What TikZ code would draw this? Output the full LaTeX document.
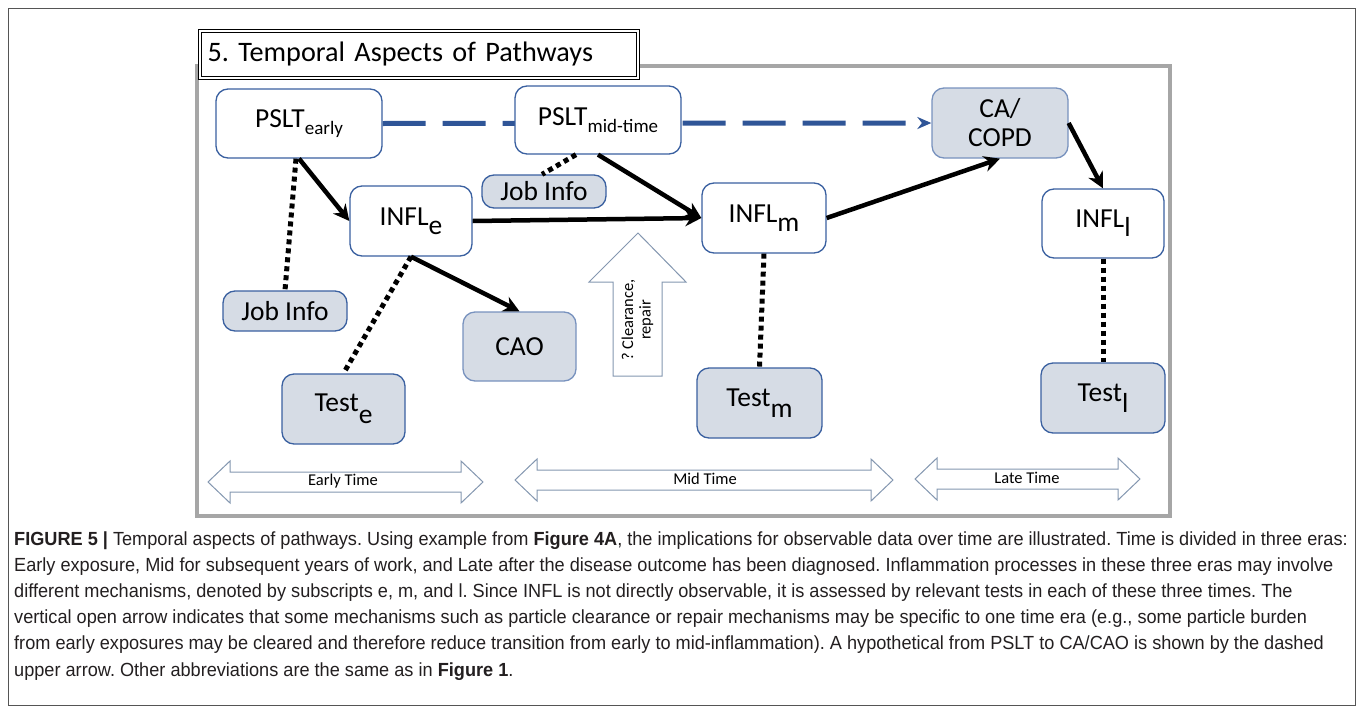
\documentclass[tikz,border=0pt]{standalone}
\usepackage{fontspec}
\setmainfont{Carlito}
\newfontfamily\tpcapfont[FakeStretch=0.955]{Liberation Sans}
\usetikzlibrary{arrows.meta}
\definecolor{TpBlue}{RGB}{47,85,151}
\definecolor{TpEdge}{RGB}{58,96,160}
\definecolor{TpSoftEdge}{RGB}{120,146,190}
\definecolor{TpFill}{RGB}{214,220,229}
\definecolor{TpFrame}{RGB}{166,166,166}
\definecolor{TpPage}{RGB}{85,85,85}
\definecolor{TpOutline}{RGB}{132,151,176}
\definecolor{TpText}{RGB}{35,31,32}
\pgfdeclarelayer{background}
\pgfsetlayers{background,main}
\frenchspacing
\newcommand\tpnodefont{\fontsize{27.5}{29}\selectfont}
\newcommand\tpsmallfont{\fontsize{16.5}{17.5}\selectfont}
\newcommand\tplow[1]{\raisebox{-0.32em}{#1}}
\newcommand\tplower[1]{\raisebox{-0.42em}{#1}}
\newcommand\tpsubtext[1]{\raisebox{-0.28em}{\fontsize{19}{20}\selectfont #1}}
\tikzset{
  tp/box/.style={
    draw=TpEdge,
    line width=1.3pt,
    rounded corners=12pt,
    fill=white,
    align=center,
    text=black,
    inner sep=0pt,
    font=\tpnodefont
  },
  tp/softbox/.style={
    tp/box,
    fill=TpFill
  },
  tp/titlebox/.style={
    draw=black,
    double=white,
    double distance=1.8pt,
    line width=1.2pt,
    fill=white,
    minimum height=47pt,
    text width=422pt,
    inner xsep=8pt,
    align=left,
    font=\fontsize{28.2}{30}\selectfont
  },
  tp/arrow/.style={-{Stealth[length=16pt,width=16pt]}, line width=4.5pt, draw=black},
  tp/dots/.style={line width=5pt, dash pattern=on 5pt off 4pt, draw=black},
  tp/dasharrow/.style={-{Stealth[length=14pt,width=12pt]}, line width=5pt, dash pattern=on 43pt off 17pt, draw=TpBlue},
  tp/block/.style={draw=TpOutline, line width=1pt, fill=white},
  tp/blocklabel/.style={font=\tpsmallfont, align=center, inner sep=0pt},
  tp/caption/.style={font=\tpcapfont\fontsize{19}{21}\selectfont, text=TpText, anchor=base west, inner sep=0pt}
}
\begin{document}
\begin{tikzpicture}[x=1pt,y=-1pt]
  \useasboundingbox (0,0) rectangle (1357,712);
  \draw[TpPage, line width=1pt] (8,8) rectangle (1355,705);
  \draw[TpFrame, line width=4pt] (197,66) rectangle (1170,516);
  \node[tp/titlebox, anchor=north west] (title) at (199,30) {5. Temporal Aspects of Pathways};

  \node[tp/box, minimum width=166pt, minimum height=69pt] (psltE) at (299,123.5) {PSLT\tpsubtext{early}};
  \node[tp/box, minimum width=166pt, minimum height=68pt] (psltM) at (598,120) {PSLT\tpsubtext{mid-time}};
  \node[tp/softbox, draw=TpSoftEdge, minimum width=136pt, minimum height=70pt] (caCopd) at (1000,123) {CA/\\COPD};
  \node[tp/softbox, minimum width=124pt, minimum height=33pt] (jobM) at (544,191.5) {Job Info};
  \node[tp/box, minimum width=122pt, minimum height=70pt] (inflE) at (411,221) {INFL\tplow{e}};
  \node[tp/box, minimum width=124pt, minimum height=70pt] (inflM) at (764,218) {INFL\tplow{m}};
  \node[tp/box, minimum width=122pt, minimum height=69pt] (inflL) at (1103,223.5) {INFL\tplow{l}};
  \node[tp/softbox, minimum width=124pt, minimum height=40pt] (jobE) at (285,311) {Job Info};
  \node[tp/softbox, draw=TpSoftEdge, minimum width=113pt, minimum height=69pt] (cao) at (519.5,346.5) {CAO};
  \node[tp/softbox, minimum width=123pt, minimum height=70pt] (testE) at (343.5,409) {Test\tplower{e}};
  \node[tp/softbox, minimum width=125pt, minimum height=70pt] (testM) at (759.5,403) {Test\tplower{m}};
  \node[tp/softbox, minimum width=124pt, minimum height=70pt] (testL) at (1103,398) {Test\tplower{l}};

  \begin{pgfonlayer}{background}
    \draw[tp/dasharrow] (psltE.east) -- (caCopd.west);
  \end{pgfonlayer}

  \draw[tp/arrow] (psltE.south) -- (inflE.west);
  \draw[tp/arrow] (inflE.east) -- (inflM.west);
  \draw[tp/arrow] (psltM.south) -- (inflM.west);
  \draw[tp/arrow] (inflM.east) -- (caCopd.south);
  \draw[tp/arrow] (caCopd.east) -- (inflL.north);
  \draw[tp/arrow] (inflE.south) -- (cao.north);

  \draw[tp/dots] ([xshift=-3pt]psltE.south) -- (jobE.north);
  \draw[tp/dots] ([xshift=-22pt]psltM.south) -- ([xshift=-2pt]jobM.north);
  \draw[tp/dots] (inflE.south) -- (testE.north);
  \draw[tp/dots] (inflM.south) -- (testM.north);
  \draw[tp/dots] (inflL.south) -- (testL.north);

  \draw[tp/block] (638,233) -- (686,282) -- (662,282) -- (662,376) -- (613,376) -- (613,282) -- (589,282) -- cycle;
  \node[tp/blocklabel, rotate=90] (clearance) at (637.5,320) {? Clearance,\\repair};

  \foreach \xa/\xb/\yc in {208/483/482, 515/893/480, 915/1140/479}{
    \draw[tp/block] (\xa,\yc) -- (\xa+22,\yc-21) -- (\xa+22,\yc-10) -- (\xb-22,\yc-10) -- (\xb-22,\yc-21)
      -- (\xb,\yc) -- (\xb-22,\yc+21) -- (\xb-22,\yc+10) -- (\xa+22,\yc+10) -- (\xa+22,\yc+21) -- cycle;
  }
  \node[tp/blocklabel] (early) at (343,481) {Early Time};
  \node[tp/blocklabel] (mid) at (705,479) {Mid Time};
  \node[tp/blocklabel] (late) at (1027,478) {Late Time};

  \node[tp/caption] (cap1) at (14,545) {\textbf{FIGURE 5 |} Temporal aspects of pathways. Using example from \textbf{Figure 4A}, the implications for observable data over time are illustrated. Time is divided in three eras:};
  \node[tp/caption] (cap2) at (14,571.2) {Early exposure, Mid for subsequent years of work, and Late after the disease outcome has been diagnosed. Inflammation processes in these three eras may involve};
  \node[tp/caption] (cap3) at (14,597.4) {different mechanisms, denoted by subscripts e, m, and l. Since INFL is not directly observable, it is assessed by relevant tests in each of these three times. The};
  \node[tp/caption] (cap4) at (14,623.6) {vertical open arrow indicates that some mechanisms such as particle clearance or repair mechanisms may be specific to one time era (e.g., some particle burden};
  \node[tp/caption] (cap5) at (14,649.8) {from early exposures may be cleared and therefore reduce transition from early to mid-inflammation). A hypothetical from PSLT to CA/CAO is shown by the dashed};
  \node[tp/caption] (cap6) at (14,676) {upper arrow. Other abbreviations are the same as in \textbf{Figure 1}.};
\end{tikzpicture}
\end{document}
